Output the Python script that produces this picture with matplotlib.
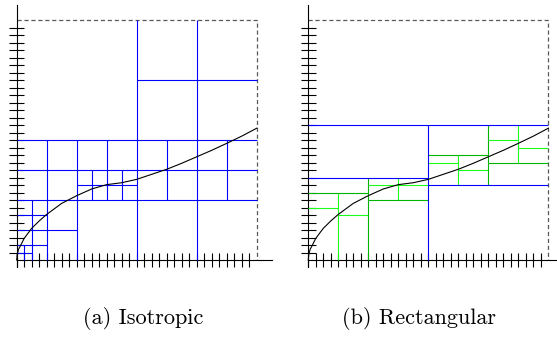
import numpy as np
import matplotlib
matplotlib.use("Agg")
import matplotlib.pyplot as plt

plt.rcParams['lines.scale_dashes'] = False

# curve (same in both panels)
curve_x = [0.0, 0.002, 0.0078, 0.014, 0.031, 0.0625, 0.094, 0.125, 0.1875, 0.25,
           0.3125, 0.375, 0.4375, 0.5, 0.5625, 0.625, 0.6875, 0.75, 0.8125,
           0.875, 0.9375, 1.0]
curve_y = [0.0, 0.023, 0.045, 0.056, 0.09, 0.132, 0.163, 0.19, 0.236, 0.268,
           0.296, 0.314, 0.322, 0.336, 0.357, 0.378, 0.403, 0.43, 0.457,
           0.486, 0.516, 0.549]

# (a) isotropic mesh: horizontal (y, x0, x1), vertical (x, y0, y1)
iso_h = [(0.75, 0.5, 1.0), (0.5, 0.0, 1.0), (0.375, 0.0, 1.0), (0.25, 0.0, 1.0),
         (0.3125, 0.25, 0.5), (0.1875, 0.0, 0.125), (0.125, 0.0, 0.25),
         (0.0625, 0.0, 0.125), (0.03125, 0.0, 0.0625)]
iso_v = [(0.5, 0.0, 1.0), (0.75, 0.0, 1.0), (0.125, 0.0, 0.5), (0.25, 0.0, 0.5),
         (0.375, 0.25, 0.5), (0.625, 0.25, 0.5), (0.875, 0.25, 0.5),
         (0.3125, 0.25, 0.375), (0.4375, 0.25, 0.375), (0.0625, 0.0, 0.25),
         (0.03125, 0.0, 0.0625)]

# (b) rectangular mesh, by refinement level
rect_blue_h = [(0.5625, 0.0, 1.0), (0.34375, 0.0, 0.5), (0.3125, 0.5, 1.0)]
rect_blue_v = [(0.5, 0.0, 0.5625)]
rect_dark_h = [(0.28125, 0.0, 0.25), (0.25, 0.25, 0.5), (0.4375, 0.5, 0.75),
               (0.40625, 0.75, 1.0)]
rect_dark_v = [(0.25, 0.0, 0.34375), (0.75, 0.3125, 0.5625)]
rect_light_h = [(0.21875, 0.0, 0.125), (0.1875, 0.125, 0.25), (0.3125, 0.25, 0.5),
                (0.40625, 0.5, 0.625), (0.375, 0.625, 0.75), (0.5, 0.75, 0.875),
                (0.46875, 0.875, 1.0)]
rect_light_v = [(0.125, 0.0, 0.28125), (0.375, 0.25, 0.34375),
                (0.625, 0.3125, 0.4375), (0.875, 0.40625, 0.5625)]

BLUE = '#0000ff'
DARK_GREEN = '#00b400'
LIGHT_GREEN = '#1aff1a'
LW = 0.8

W, H = 557, 338
fig = plt.figure(figsize=(W / 100, H / 100), dpi=100)


def draw_lines(ax, hor, ver, color):
    for y, x0, x1 in hor:
        ax.hlines(y, x0, x1, color=color, lw=LW, clip_on=False)
    for x, y0, y1 in ver:
        ax.vlines(x, y0, y1, color=color, lw=LW, clip_on=False)


def make_panel(left_px):
    # 240 px square domain, origin 260 px from top
    ax = fig.add_axes([left_px / W, (H - 260) / H, 240 / W, 240 / H])
    ax.set_xlim(0, 1)
    ax.set_ylim(0, 1)
    ax.axis('off')
    # dashed top / right border
    ax.plot([0, 1, 1], [1, 1, 0], color='0.35', lw=0.9,
            linestyle=(0, (3, 2)), clip_on=False)
    # axes with ticks crossing them
    ticks = np.arange(0, 32) / 32
    ax.vlines(ticks, -0.03, 0.03, color='k', lw=LW, clip_on=False)
    ax.hlines(ticks[1:], -0.032, 0.032, color='k', lw=LW, clip_on=False)
    ax.plot([0, 1.064], [0, 0], color='k', lw=LW, clip_on=False)
    ax.plot([0, 0], [-0.03, 1.0625], color='k', lw=LW, clip_on=False)
    return ax


ax1 = make_panel(16.7)
draw_lines(ax1, iso_h, iso_v, BLUE)
ax1.plot(curve_x, curve_y, color='k', lw=LW, clip_on=False, zorder=5)

ax2 = make_panel(308.3)
draw_lines(ax2, rect_light_h, rect_light_v, LIGHT_GREEN)
draw_lines(ax2, rect_dark_h, rect_dark_v, DARK_GREEN)
draw_lines(ax2, rect_blue_h, rect_blue_v, BLUE)
ax2.plot(curve_x, curve_y, color='k', lw=LW, clip_on=False, zorder=5)

fig.text(143 / W, 1 - 318 / H, '(a) Isotropic', family='cmr10', fontsize=16,
         ha='center', va='center')
fig.text(419 / W, 1 - 318 / H, '(b) Rectangular', family='cmr10', fontsize=16,
         ha='center', va='center')

fig.savefig('out.png', dpi=100)
